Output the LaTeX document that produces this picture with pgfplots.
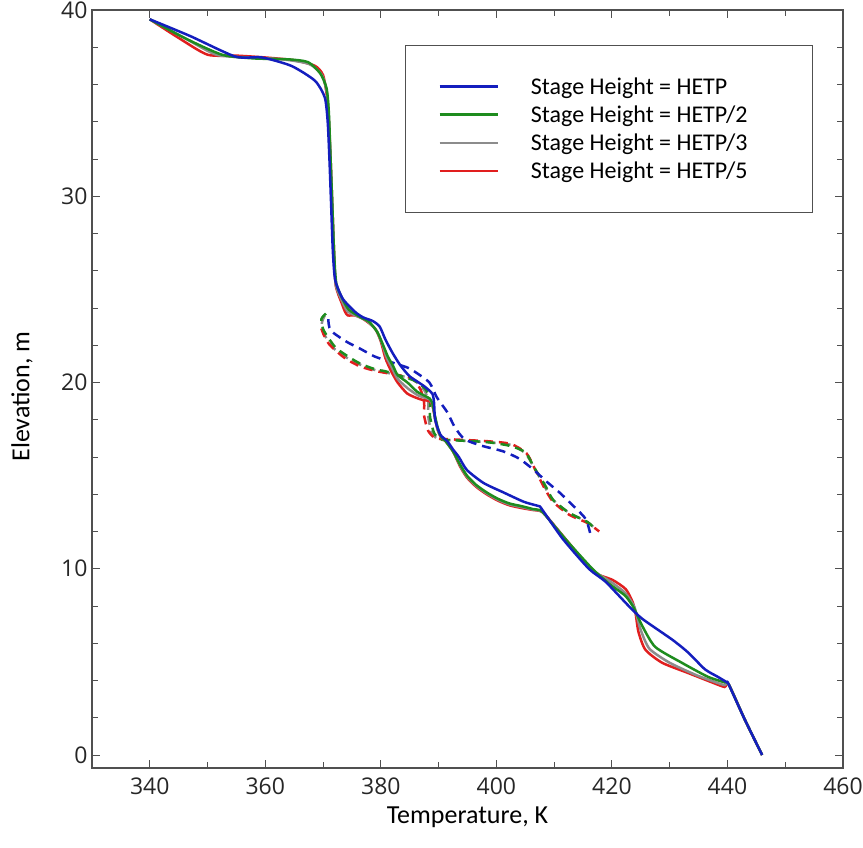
\documentclass[border=0pt]{standalone}
\usepackage{fontspec}
\setmainfont{Carlito}
\newfontfamily\tickfont{Open Sans}
\usepackage{pgfplots}
\pgfplotsset{compat=1.18}
\definecolor{cblue}{RGB}{20,30,190}
\definecolor{cgreen}{RGB}{30,140,30}
\definecolor{cgray}{RGB}{140,140,140}
\definecolor{cred}{RGB}{225,30,30}
\definecolor{axgray}{RGB}{80,80,80}
\begin{document}
\begin{tikzpicture}
\useasboundingbox (-92pt,-79pt) rectangle (771pt,768pt);
\begin{axis}[
  at={(0pt,0pt)}, anchor=south west,
  width=751pt, height=758pt, scale only axis,
  xmin=330, xmax=460, ymin=-0.7, ymax=40,
  xtick={340,360,...,460}, minor x tick num=1,
  ytick={0,10,...,40}, minor y tick num=4,
  major tick length=8pt, minor tick length=6pt,
  tick style={axgray, line width=0.9pt},
  axis line style={axgray, line width=1.2pt},
  /pgf/number format/assume math mode=true,
  ticklabel style={font=\tickfont\fontsize{23}{23}\selectfont, text=black!85},
  xticklabel style={yshift=-6pt},
  yticklabel style={xshift=-1pt},
  xlabel={Temperature, K},
  ylabel={Elevation, m},
  every axis x label/.style={at={(axis description cs:0.5,0)}, yshift=-49pt, anchor=center, font=\fontsize{26}{26}\selectfont},
  every axis y label/.style={at={(axis description cs:0,0.49)}, xshift=-70pt, anchor=center, rotate=90, font=\fontsize{26}{26}\selectfont},
  legend style={at={(rel axis cs:0.4168,0.9538)}, anchor=north west, draw=axgray, line width=0.8pt,
    font=\fontsize{24}{24}\selectfont, inner xsep=33pt, inner ysep=30pt, row sep=6pt,
    /tikz/every odd column/.append style={column sep=30pt}},
  legend cell align=left,
  legend image code/.code={\draw[#1, line width=2.5pt] (0pt,0pt) -- (58pt,0pt);},
  reverse legend,
  every axis plot/.append style={line width=2.5pt, smooth, tension=0.4},
]
% dashed series
\addplot[cgray, line width=2.5pt, dash pattern=on 9pt off 6pt, forget plot] coordinates {
(370.3,23.6)(369.8,23.2)(370.2,22.6)(371.6,21.9)(374.0,21.35)(376.5,20.95)(379.2,20.65)(382.9,20.4)(385.6,20.15)(387.5,19.6)(388.2,19.0)(388.2,18.2)(388.8,17.3)(390.0,16.95)(392.5,16.9)(398.3,16.8)(402.5,16.65)(405.0,16.2)(406.5,15.45)(408.2,14.5)(409.8,13.7)(412.6,13.0)(415.8,12.5)(417.4,12.05)};
\addplot[cred, line width=2.5pt, dash pattern=on 9pt off 6pt, forget plot] coordinates {
(369.7,22.9)(370.2,22.5)(371.2,22.0)(373.8,21.3)(376.5,20.85)(379.4,20.6)(382.9,20.4)(385.5,20.2)(386.9,19.6)(387.5,18.9)(387.5,18.2)(388.2,17.4)(389.5,17.0)(392.0,16.95)(398.3,16.85)(402.5,16.7)(405.2,16.2)(406.6,15.4)(408.2,14.4)(409.8,13.6)(412.6,12.9)(415.8,12.45)(417.8,12.0)};
\addplot[cgreen, line width=2.5pt, dash pattern=on 9pt off 6pt, forget plot] coordinates {
(370.5,23.7)(369.7,23.4)(370.1,22.8)(372.1,21.9)(374.3,21.4)(376.5,21.0)(379.1,20.7)(380.8,20.6)(383.4,20.35)(385.8,20.1)(387.7,19.65)(388.5,19.1)(388.5,18.2)(389.2,17.3)(390.3,16.95)(392.5,16.9)(398.3,16.8)(402.3,16.6)(405.0,16.25)(406.6,15.4)(408.4,14.5)(409.8,13.7)(412.6,13.0)(415.8,12.5)(417.2,12.1)};
\addplot[cblue, line width=2.5pt, dash pattern=on 9pt off 6pt, forget plot] coordinates {
(370.9,23.4)(371.3,22.8)(374.0,22.2)(376.5,21.8)(378.9,21.4)(381.2,21.15)(384.6,20.8)(386.0,20.55)(388.4,20.0)(389.7,19.2)(391.5,18.4)(392.8,17.6)(394.5,16.95)(397.5,16.6)(401.2,16.3)(404.0,15.9)(406.5,15.3)(408.6,14.7)(410.9,14.1)(413.4,13.35)(415.5,12.65)(416.4,11.7)};
% solid series (drawn red, gray, green, blue)
\addplot[cred, line width=2.5pt] coordinates {
(340,39.5)(345,38.5)(350,37.6)(355,37.55)(360,37.45)(365,37.3)(368.6,37.0)(370.0,36.5)(370.7,35.3)(371.0,34.0)(371.3,32)(371.6,29.5)(371.9,27.0)(372.2,25.2)(373.3,24.2)(373.8,23.8)(374.3,23.6)(375.5,23.6)(377,23.4)(379.0,22.9)(380.0,22.2)(380.8,21.3)(381.8,20.6)(382.9,20.0)(384.6,19.4)(386.8,19.1)(388.4,19.0)(388.9,18.8)(389.3,18.2)(389.8,17.5)(390.4,17.05)(391.2,16.85)(392.5,16.3)(393.7,15.5)(394.9,14.9)(396.5,14.4)(398.3,14.0)(400.3,13.65)(402.3,13.4)(404.5,13.25)(406.4,13.15)(407.6,13.1)(408.6,12.85)(412.5,11.4)(416.7,9.85)(420.1,9.4)(422.4,8.9)(423.6,8.2)(424.1,7.6)(424.6,6.6)(425.8,5.65)(428.7,4.95)(433.2,4.4)(437.3,3.9)(439.5,3.65)(440.2,3.8)(443,1.9)(446,0)};
\addlegendentry{\makebox[246pt][l]{Stage Height = HETP/5}}
\addplot[cgray, line width=2.5pt] coordinates {
(340,39.5)(346,38.5)(351.5,37.6)(357,37.45)(363,37.35)(367.6,37.1)(369.8,36.5)(370.7,35.5)(371.0,34.2)(371.3,32)(371.6,29.5)(371.9,27.0)(372.2,25.25)(373.4,24.3)(374.3,23.8)(376.0,23.55)(377.6,23.3)(379.2,22.8)(380.2,22.1)(381.0,21.35)(382.0,20.75)(382.9,20.2)(384.6,19.7)(386.5,19.3)(388.4,19.1)(388.9,18.85)(389.3,18.25)(389.8,17.5)(390.4,17.08)(391.2,16.85)(392.5,16.3)(393.7,15.55)(394.9,14.95)(396.5,14.45)(398.3,14.05)(400.3,13.7)(402.3,13.45)(404.5,13.3)(406.4,13.17)(407.5,13.12)(408.5,12.88)(412.3,11.45)(416.6,9.95)(419.8,9.3)(422.3,8.7)(423.8,8.0)(424.3,7.5)(425.0,6.7)(426.5,5.7)(430.0,4.95)(434.5,4.3)(438.0,3.9)(439.5,3.75)(440.2,3.8)(443,1.9)(446,0)};
\addlegendentry{\makebox[246pt][l]{Stage Height = HETP/3}}
\addplot[cgreen, line width=2.5pt] coordinates {
(340,39.5)(346,38.5)(352.5,37.6)(358,37.4)(364,37.35)(367.4,37.2)(369.5,36.6)(370.6,35.8)(371.0,34.5)(371.3,32)(371.6,29.5)(371.9,27.0)(372.3,25.3)(373.5,24.4)(374.5,23.9)(376.5,23.5)(378.0,23.25)(379.4,22.7)(380.4,22.0)(381.2,21.4)(382.1,20.9)(382.9,20.4)(384.6,20.0)(386.3,19.5)(387.5,19.3)(388.4,19.15)(388.9,18.9)(389.3,18.3)(389.9,17.5)(390.4,17.1)(391.2,16.85)(392.5,16.3)(393.7,15.6)(394.9,15.0)(396.5,14.5)(398.3,14.1)(400.3,13.75)(402.3,13.5)(404.5,13.35)(406.4,13.2)(407.5,13.15)(408.4,12.9)(412.2,11.5)(416.6,10.0)(419.5,9.2)(422.3,8.55)(423.6,8.0)(424.1,7.7)(425.3,6.9)(427.5,5.8)(432.1,4.95)(436.6,4.2)(439.5,3.9)(440.2,3.8)(443,1.9)(446,0)};
\addlegendentry{\makebox[246pt][l]{Stage Height = HETP/2}}
\addplot[cblue, line width=2.5pt] coordinates {
(340,39.5)(347,38.6)(354.8,37.5)(359.4,37.45)(364.5,37.0)(368.6,36.2)(370.3,35.3)(370.8,34.0)(371.1,32.0)(371.4,29.5)(371.7,27.0)(372.1,25.5)(373.4,24.5)(375.5,23.8)(376.9,23.5)(378.6,23.3)(379.8,23.0)(380.8,22.3)(382.0,21.6)(383.2,21.0)(384.2,20.6)(385.1,20.3)(387.5,19.8)(388.9,19.4)(389.2,18.95)(389.4,18.0)(390.3,17.2)(391.5,16.85)(392.5,16.4)(393.5,16.0)(394.9,15.3)(397.8,14.6)(401.2,14.1)(404.7,13.6)(406.9,13.4)(407.5,13.35)(408.1,13.1)(411.5,11.6)(416.0,10.0)(418.9,9.3)(422.9,8.0)(425.3,7.3)(430.4,6.2)(433.2,5.5)(436.1,4.6)(438.3,4.2)(439.9,3.9)(440.2,3.8)(443,1.9)(446,0)};
\addlegendentry{\makebox[246pt][l]{Stage Height = HETP}}
\end{axis}
\end{tikzpicture}
\end{document}
